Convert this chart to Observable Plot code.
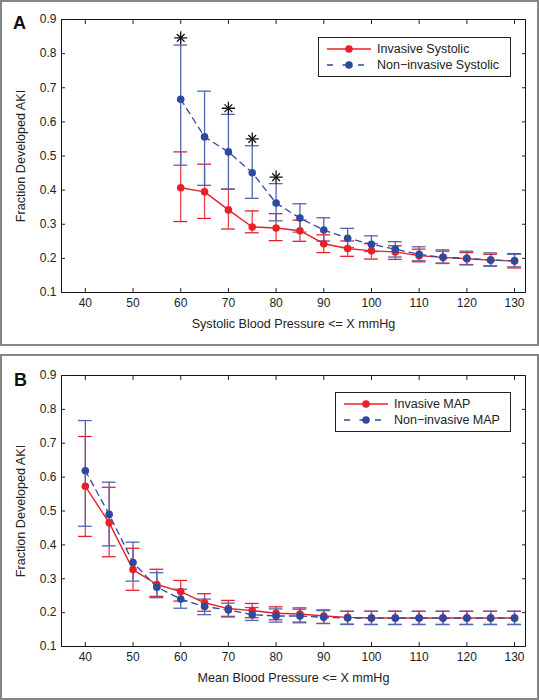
<!DOCTYPE html>
<html><head><meta charset="utf-8">
<script src="https://cdn.jsdelivr.net/npm/d3@7"></script>
<script src="https://cdn.jsdelivr.net/npm/@observablehq/plot@0.6"></script>
<style>
body{margin:0;background:#fff;font-family:"Liberation Sans",Arial,sans-serif;}
.frame{position:absolute;left:0;width:535px;height:342px;border:2px solid #858585;}
.panel{position:absolute;left:0;}
.tag{position:absolute;font-weight:bold;font-size:18px;color:#111;}
.legend{position:absolute;border:1px solid #222;background:#fff;font-size:12.5px;color:#222;padding:3px 6px 3px 8px;}
.legend div{display:flex;align-items:center;height:16px;}
.legend svg{margin-right:6px;}
</style>
</head><body>
<div class="frame" style="top:0"></div>
<div class="frame" style="top:354px"></div>
<div id="pa" class="panel" style="top:0"></div>
<div id="pb" class="panel" style="top:354px"></div>
<div class="tag" style="left:13px;top:13px">A</div>
<div class="tag" style="left:14px;top:370px">B</div>
<div class="legend" id="la" style="left:318px;top:37px;width:177px"></div>
<div class="legend" id="lb" style="left:335px;top:392px;width:160px"></div>
<script>
// Panel A: systolic blood pressure thresholds
const sysX = [60,65,70,75,80,85,90,95,100,105,110,115,120,125,130];
const invSys   = [0.407,0.395,0.342,0.292,0.289,0.281,0.243,0.229,0.222,0.219,0.208,0.203,0.199,0.195,0.192];
const invSysLo = [0.308,0.317,0.286,0.275,0.252,0.250,0.217,0.206,0.198,0.197,0.190,0.186,0.182,0.178,0.172];
const invSysHi = [0.512,0.476,0.403,0.339,0.331,0.312,0.269,0.251,0.243,0.237,0.227,0.221,0.217,0.212,0.214];
const nonSys   = [0.666,0.556,0.512,0.451,0.362,0.318,0.283,0.259,0.241,0.227,0.212,0.203,0.200,0.195,0.193];
const nonSysLo = [0.473,0.414,0.403,0.376,0.310,0.277,0.251,0.232,0.220,0.204,0.193,0.185,0.181,0.177,0.175];
const nonSysHi = [0.825,0.690,0.622,0.530,0.419,0.360,0.319,0.288,0.266,0.249,0.234,0.225,0.221,0.216,0.212];
const starX = [60,70,75,80];
const starY = [0.846,0.640,0.550,0.438];

// Panel B: mean arterial pressure thresholds
const mapX = [40,45,50,55,60,65,70,75,80,85,90,95,100,105,110,115,120,125,130];
const invMap   = [0.573,0.465,0.327,0.283,0.262,0.229,0.212,0.206,0.198,0.196,0.190,0.186,0.184,0.184,0.184,0.184,0.184,0.184,0.184];
const invMapLo = [0.425,0.365,0.266,0.248,0.234,0.204,0.189,0.185,0.179,0.172,0.168,0.166,0.165,0.165,0.165,0.165,0.165,0.165,0.165];
const invMapHi = [0.720,0.570,0.390,0.328,0.295,0.256,0.236,0.227,0.217,0.214,0.208,0.204,0.204,0.204,0.204,0.204,0.204,0.204,0.204];
const nonMap   = [0.619,0.490,0.348,0.275,0.240,0.218,0.208,0.194,0.190,0.190,0.186,0.184,0.184,0.184,0.184,0.184,0.184,0.184,0.184];
const nonMapLo = [0.455,0.397,0.293,0.244,0.213,0.194,0.187,0.177,0.172,0.170,0.168,0.165,0.165,0.165,0.165,0.165,0.165,0.165,0.165];
const nonMapHi = [0.767,0.585,0.408,0.318,0.269,0.240,0.228,0.215,0.211,0.210,0.206,0.204,0.204,0.204,0.204,0.204,0.204,0.204,0.204];

const xTicks = [40,50,60,70,80,90,100,110,120,130];
const yTicks = [0.1,0.2,0.3,0.4,0.5,0.6,0.7,0.8,0.9];
const RED = "#e8202a", RED_E = "#e8414a";
const BLUE = "#2c4a9e", BLUE_E = "#5066b0";
const CAP = 1.45;

function rows(xs, v, lo, hi){ return xs.map((x,i)=>({x, y:v[i], lo:lo[i], hi:hi[i]})); }

function panel(o){
  const inv = rows(o.xs, o.inv, o.invLo, o.invHi);
  const non = rows(o.xs, o.non, o.nonLo, o.nonHi);
  const marks = [
    Plot.ruleX(inv, {x:"x", y1:"lo", y2:"hi", stroke:RED_E, strokeWidth:1.3}),
    Plot.ruleY(inv, {y:"hi", x1:d=>d.x-CAP, x2:d=>d.x+CAP, stroke:RED, strokeWidth:1.3}),
    Plot.ruleY(inv, {y:"lo", x1:d=>d.x-CAP, x2:d=>d.x+CAP, stroke:RED, strokeWidth:1.3}),
    Plot.ruleX(non, {x:"x", y1:"lo", y2:"hi", stroke:BLUE_E, strokeWidth:1.3}),
    Plot.ruleY(non, {y:"hi", x1:d=>d.x-CAP, x2:d=>d.x+CAP, stroke:BLUE_E, strokeWidth:1.3}),
    Plot.ruleY(non, {y:"lo", x1:d=>d.x-CAP, x2:d=>d.x+CAP, stroke:BLUE_E, strokeWidth:1.3}),
    Plot.line(inv, {x:"x", y:"y", stroke:RED, strokeWidth:1.4}),
    Plot.line(non, {x:"x", y:"y", stroke:BLUE, strokeWidth:1.3, strokeDasharray:"6,5"}),
    Plot.dot(inv, {x:"x", y:"y", r:3.8, fill:RED}),
    Plot.dot(non, {x:"x", y:"y", r:3.8, fill:BLUE}),
  ];
  if (o.starX) {
    const st = o.starX.map((x,i)=>({x, y:o.starY[i]}));
    marks.push(Plot.dot(st, {x:"x", y:"y", symbol:"plus", r:4.3, stroke:"#111", strokeWidth:1.3}));
    marks.push(Plot.dot(st, {x:"x", y:"y", symbol:"times", r:3.6, stroke:"#111", strokeWidth:1.3}));
  }
  marks.push(
    Plot.frame({stroke:"#111", strokeWidth:1}),
    Plot.axisX(xTicks, {tickSize:0, tickPadding:6, label:null}),
    Plot.axisX(xTicks, {tickSize:-4, tickFormat:()=>"", label:null}),
    Plot.axisX(xTicks, {anchor:"top", tickSize:-4, tickFormat:()=>"", label:null}),
    Plot.axisY(yTicks, {tickSize:0, tickPadding:5, tickFormat:d3.format(".1f"), label:null}),
    Plot.axisY(yTicks, {tickSize:-4, tickFormat:()=>"", label:null}),
    Plot.axisY(yTicks, {anchor:"right", tickSize:-4, tickFormat:()=>"", label:null}),
    Plot.text([o.xlabel], {frameAnchor:"bottom", dy:31, text:d=>d, fontSize:12.6, fill:"#222", lineAnchor:"middle", textAnchor:"middle"}),
    Plot.text(["Fraction Developed AKI"], {frameAnchor:"left", dx:-41, rotate:-90, text:d=>d, fontSize:12.6, fill:"#222", lineAnchor:"middle", textAnchor:"middle"})
  );
  return Plot.plot({
    width:539, height:o.height, marginLeft:61, marginRight:14, marginTop:o.mt, marginBottom:o.mb,
    style:{fontFamily:'"Liberation Sans", Arial, sans-serif', fontSize:"12px", color:"#222", background:"transparent", overflow:"visible"},
    x:{domain:[35,132.3]},
    y:{domain:[0.1,0.9]},
    marks
  });
}

document.getElementById("pa").append(panel({
  xs:sysX, inv:invSys, invLo:invSysLo, invHi:invSysHi, non:nonSys, nonLo:nonSysLo, nonHi:nonSysHi,
  starX, starY, xlabel:"Systolic Blood Pressure <= X mmHg", height:346, mt:19, mb:54
}));
document.getElementById("pb").append(panel({
  xs:mapX, inv:invMap, invLo:invMapLo, invHi:invMapHi, non:nonMap, nonLo:nonMapLo, nonHi:nonMapHi,
  xlabel:"Mean Blood Pressure <= X mmHg", height:346, mt:21, mb:54
}));

function legend(id, names){
  const el = document.getElementById(id);
  const samples = [
    `<svg width="44" height="10"><line x1="0" y1="5" x2="44" y2="5" stroke="${RED}" stroke-width="1.4"/><circle cx="22" cy="5" r="3.8" fill="${RED}"/></svg>`,
    `<svg width="44" height="10"><line x1="0" y1="5" x2="44" y2="5" stroke="${BLUE}" stroke-width="1.3" stroke-dasharray="6,9.5"/><circle cx="22" cy="5" r="3.8" fill="${BLUE}"/></svg>`
  ];
  el.innerHTML = names.map((n,i)=>`<div>${samples[i]}<span>${n}</span></div>`).join("");
}
legend("la", ["Invasive Systolic", "Non\u2212invasive Systolic"]);
legend("lb", ["Invasive MAP", "Non\u2212invasive MAP"]);
</script>
</body></html>
